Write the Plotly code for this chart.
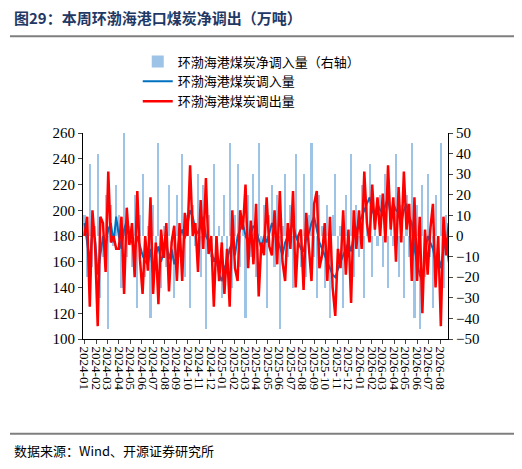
import pandas as pd
import plotly.graph_objects as go

weeks = pd.date_range("2024-01-01", periods=140, freq="7D")

inbound = [
    190, 175, 160, 185, 178, 150, 165, 180, 172, 185, 190, 175, 195,
    180, 170, 185, 192, 178, 175, 168, 180, 172, 165, 160, 158, 170,
    150, 165, 172, 160, 168, 175, 162, 170, 158, 165, 180, 185, 178,
    190, 200, 195, 185, 182, 188, 195, 180, 176, 170, 160, 165, 150,
    145, 155, 160, 170, 175, 165, 180, 185, 190, 180, 175, 182, 188,
    185, 178, 170, 180, 175, 182, 190, 185, 178, 170, 165, 175, 180,
    185, 190, 180, 175, 170, 168, 178, 182, 190, 195, 185, 175, 170,
    165, 160, 155, 150, 148, 155, 160, 165, 170, 175, 168, 180, 185,
    190, 195, 200, 205, 210, 200, 195, 205, 200, 198, 205, 210, 195,
    205, 200, 198, 190, 200, 205, 195, 190, 170, 160, 150, 145, 165,
    180, 175, 170, 160, 165, 155, 170, 175, 160, 150,
]

net = [
    10, -20, 35, -15, 5, 40, -30, -10, 20, -45, 15, -5, 25,
    10, -25, 50, -10, 5, -15, 20, -35, 10, 30, -20, 5, -40,
    15, -10, 45, -25, 5, -15, 25, -5, -30, 20, -10, 40, -20,
    10, -35, 15, -5, 30, -20, 25, -45, 10, -10, 35, -15, 5,
    -30, 20, -10, 45, -25, 10, 35, -15, 5, -40, 20, -10, 30,
    -20, 45, -5, 15, -35, 10, 25, -15, 20, -45, 5, 30, -10,
    15, -25, 40, -5, -15, 30, -20, 10, 45, -10, -30, 20, 5,
    -25, 15, -40, 10, 30, -15, 5, -35, 20, -10, 40, -20, 15,
    -10, 25, -30, 15, 35, -20, 10, -5, 20, -15, 30, -25, 10,
    -5, 40, -20, 15, -30, 20, -10, 45, -40, 15, -45, 25, -20,
    30, -10, -35, 20, -15, 45, -25, 10, -30, 15,
]

outbound = [i - n for i, n in zip(inbound, net)]

serif = "Liberation Serif, Noto Sans CJK SC"
cjk = "Noto Sans CJK SC"

fig = go.Figure()
fig.add_trace(go.Bar(x=weeks, y=net, name="环渤海港煤炭净调入量（右轴）",
                     marker=dict(color="#9DC3E6", line=dict(width=0)),
                     width=7 * 86400000 * 0.8, yaxis="y"))
fig.add_trace(go.Scatter(x=weeks, y=inbound, name="环渤海港煤炭调入量", mode="lines",
                         line=dict(color="#0070C0", width=2), yaxis="y2"))
fig.add_trace(go.Scatter(x=weeks, y=outbound, name="环渤海港煤炭调出量", mode="lines",
                         line=dict(color="#FF0000", width=2.5), yaxis="y2"))

axis_common = dict(showline=True, linecolor="black", linewidth=1, ticks="outside",
                   ticklen=4, showgrid=False, zeroline=False, automargin=False,
                   tickfont=dict(family=serif, size=15, color="black"))

fig.update_layout(
    width=522, height=469,
    margin=dict(l=75, r=82, t=125, b=138),
    paper_bgcolor="white", plot_bgcolor="white",
    bargap=0,
    showlegend=True,
    legend=dict(x=0.15, y=1.42, xanchor="left", yanchor="top",
                font=dict(family=cjk, size=13, color="black"),
                bgcolor="rgba(0,0,0,0)", tracegroupgap=2),
    xaxis=dict(axis_common, type="date", tickformat="%Y-%m", dtick="M1",
               tick0="2024-01-01", tickangle=90,
               range=["2023-12-28", "2026-08-22"],
               tickfont=dict(family=serif, size=13, color="black")),
    yaxis=dict(axis_common, side="right", range=[-50, 50], dtick=10),
    yaxis2=dict(axis_common, side="left", overlaying="y", range=[100, 260], dtick=20),
    shapes=[
        dict(type="line", xref="paper", yref="paper", x0=-0.2, x1=1.215,
             y0=1.47, y1=1.47, line=dict(color="#7F7F7F", width=2)),
        dict(type="line", xref="paper", yref="paper", x0=-0.2, x1=1.215,
             y0=-0.46, y1=-0.46, line=dict(color="#7F7F7F", width=2)),
    ],
    annotations=[
        dict(text="<b>图29：本周环渤海港口煤炭净调出（万吨）</b>", xref="paper", yref="paper",
             x=-0.195, y=1.56, xanchor="left", yanchor="middle", showarrow=False,
             font=dict(family=cjk, size=15, color="#1F3864")),
        dict(text="数据来源：Wind、开源证券研究所", xref="paper", yref="paper",
             x=-0.195, y=-0.54, xanchor="left", yanchor="middle", showarrow=False,
             font=dict(family=cjk, size=13, color="black")),
    ],
)

fig.write_html("out.html")
